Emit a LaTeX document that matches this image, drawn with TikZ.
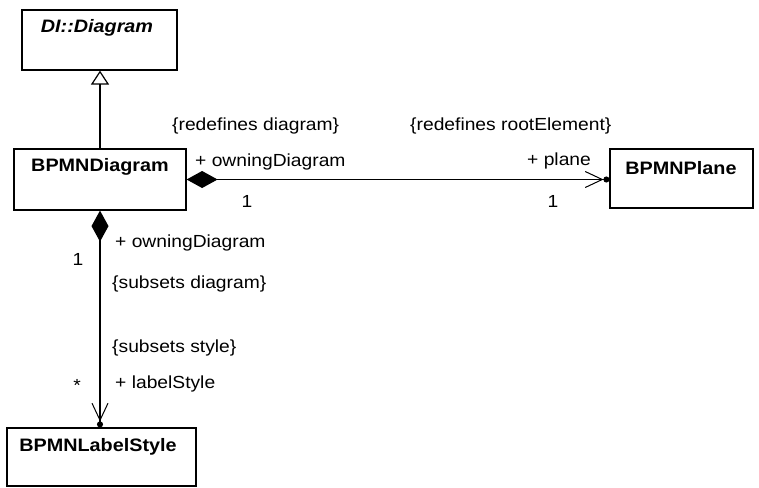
\documentclass[tikz,border=0pt]{standalone}
\usepackage{fontspec}
\setmainfont[FakeStretch=1.1]{Liberation Sans}
\usetikzlibrary{arrows.meta}
\begin{document}
\begin{tikzpicture}[x=1pt,y=-1pt,
  cls/.style={draw=black,line width=1.2pt,rectangle,inner sep=0pt},
  cname/.style={font=\fontsize{18}{21}\selectfont\bfseries,inner sep=0pt},
  lbl/.style={font=\fontsize{17.5}{20}\selectfont,inner sep=0pt,anchor=west},
  mult/.style={font=\fontsize{17.5}{20}\selectfont,inner sep=0pt},
  conn/.style={line width=1.2pt,draw=black}]
\useasboundingbox (0,0) rectangle (759,487);
% classes
\node[cls,minimum width=155pt,minimum height=60pt] (di) at (99.5,40) {};
\node[cname,font=\fontsize{18}{21}\selectfont\bfseries\itshape] (diT) at (97,28) {DI::Diagram};
\node[cls,minimum width=172pt,minimum height=61pt] (bd) at (100,179.5) {};
\node[cname] (bdT) at (100,167) {BPMNDiagram};
\node[cls,minimum width=143pt,minimum height=59pt] (bp) at (681.5,178.5) {};
\node[cname] (bpT) at (681,168) {BPMNPlane};
\node[cls,minimum width=189pt,minimum height=58pt] (bl) at (101.5,457) {};
\node[cname] (blT) at (98,447) {BPMNLabelStyle};
% generalization
\draw[conn,-{Triangle[open,length=14pt,width=18pt,line width=1.2pt]}] (bd.north) -- (bd.north |- di.south);
% composition to plane
\draw[conn,{Diamond[length=31pt,width=17pt]}-{Straight Barb[length=17pt,width=16pt,line width=1pt]Circle[length=6pt]}] (bd.east) -- (bd.east -| bp.west);
% composition to label style
\draw[conn,{Diamond[length=31pt,width=17pt]}-{Straight Barb[length=17pt,width=16pt,line width=1pt]Circle[length=6pt]}] (bd.south) -- (bd.south |- bl.north);
% labels
\node[lbl] (l1) at (172,126) {\{redefines diagram\}};
\node[lbl] (l2) at (410,126) {\{redefines rootElement\}};
\node[lbl] (l3) at (195,162) {+ owningDiagram};
\node[mult] (m1) at (247,201) {1};
\node[lbl] (l4) at (527,161) {+ plane};
\node[mult] (m2) at (553,201) {1};
\node[lbl] (l5) at (115,243) {+ owningDiagram};
\node[mult] (m3) at (78,259) {1};
\node[lbl] (l6) at (112,284) {\{subsets diagram\}};
\node[lbl] (l7) at (112,348) {\{subsets style\}};
\node[mult] (m4) at (77,385) {*};
\node[lbl] (l8) at (115,384) {+ labelStyle};
\end{tikzpicture}
\end{document}
